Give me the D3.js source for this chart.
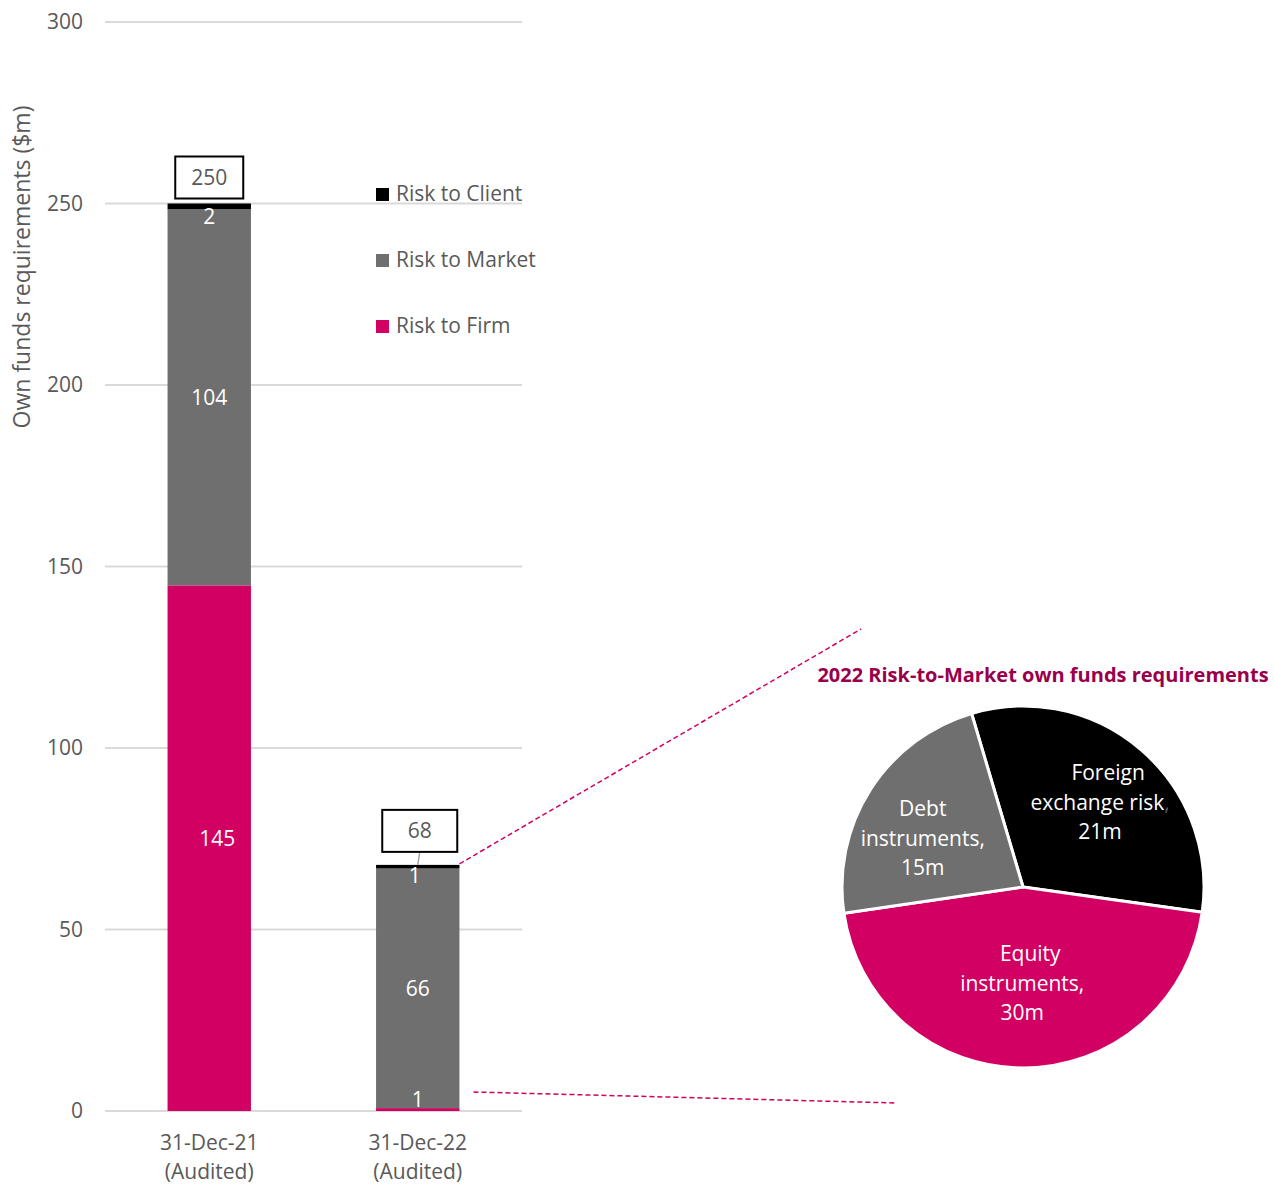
<!DOCTYPE html>
<html>
<head>
<meta charset="utf-8">
<script src="https://cdn.jsdelivr.net/npm/d3@7"></script>
<style>
  body { margin: 0; background: #fff; }
  svg text { font-family: "Open Sans", "Noto Sans", sans-serif; }
</style>
</head>
<body>
<div class="chart"></div>
<script>
// DATA ------------------------------------
const periods = ['31-Dec-21', '31-Dec-22'];
const periodNotes = ['(Audited)', '(Audited)'];
const riskToFirm = [144.8, 0.8];
const riskToMarket = [103.6, 66.0];
const riskToClient = [1.6, 1.0];
const yTicks = [0, 50, 100, 150, 200, 250, 300];

const pieLabels = [['Foreign', 'exchange risk', '21m'], ['Equity', 'instruments,', '30m'], ['Debt', 'instruments,', '15m']];
const pieValues = [21, 30, 15];

const colors = { firm: '#d20062', market: '#6f6f6f', client: '#000000' };
const pieColors = ['#000000', '#d20062', '#6f6f6f'];
const textGrey = '#595959';

// CHART INIT ------------------------------
const W = 1274, H = 1184;
const margin = { top: 22, left: 105 },
    plotW = 417,
    plotH = 1089;

const svg = d3.select('.chart')
    .append('svg')
    .attr('width', W)
    .attr('height', H);

const group = svg.append('g')
    .attr('transform', `translate(${margin.left},${margin.top})`);

const xScale = d3.scaleBand()
    .domain(periods)
    .range([0, plotW])
    .paddingInner(0.6)
    .paddingOuter(0.3);

const yScale = d3.scaleLinear()
    .domain([0, 300])
    .range([plotH, 0]);

// gridlines
group.selectAll('.grid')
    .data(yTicks)
    .enter()
    .append('line')
    .attr('x1', 0)
    .attr('x2', plotW)
    .attr('y1', d => yScale(d))
    .attr('y2', d => yScale(d))
    .attr('stroke', '#d9d9d9')
    .attr('stroke-width', 2);

// y axis labels
const yAxis = d3.axisLeft(yScale).tickValues(yTicks).tickSize(0).tickPadding(22);
const yDisplay = group.append('g').call(yAxis);
yDisplay.select('.domain').remove();
yDisplay.selectAll('text')
    .attr('font-size', 21)
    .attr('fill', textGrey)
    .style('font-family', '"Open Sans", sans-serif');

svg.append('text')
    .attr('transform', 'translate(30,267) rotate(-90)')
    .attr('text-anchor', 'middle')
    .attr('font-size', 23)
    .attr('fill', textGrey)
    .text('Own funds requirements ($m)');

// x axis labels
const xAxis = group.append('g').attr('transform', `translate(0,${plotH})`);
periods.forEach((p, i) => {
    const cx = xScale(p) + xScale.bandwidth() / 2;
    const t = xAxis.append('text')
        .attr('text-anchor', 'middle')
        .attr('font-size', 21)
        .attr('fill', textGrey);
    t.append('tspan').attr('x', cx).attr('y', 39).text(p);
    t.append('tspan').attr('x', cx).attr('y', 68).text(periodNotes[i]);
});

// stacked bars
const rows = periods.map((p, i) => ({
    period: p,
    firm: riskToFirm[i],
    market: riskToMarket[i],
    client: riskToClient[i]
}));
const keys = ['firm', 'market', 'client'];
const stacked = d3.stack().keys(keys)(rows);

group.selectAll('.layer')
    .data(stacked)
    .enter()
    .append('g')
    .attr('fill', d => colors[d.key])
    .selectAll('rect')
    .data(d => d)
    .enter()
    .append('rect')
    .attr('x', d => xScale(d.data.period))
    .attr('y', d => yScale(d[1]))
    .attr('width', xScale.bandwidth())
    .attr('height', d => yScale(d[0]) - yScale(d[1]));

// segment labels
const fmt = d3.format('.0f');
stacked.forEach(layer => {
    layer.forEach((d, i) => {
        const cx = xScale(d.data.period) + xScale.bandwidth() / 2;
        let cy, dx = 0;
        if (layer.key === 'market') {
            cy = (yScale(d[0]) + yScale(d[1])) / 2;
        } else if (layer.key === 'firm') {
            if (i === 0) { cy = (yScale(d[0]) + yScale(d[1])) / 2 - 10; dx = 8; }
            else { cy = yScale(d[1]) - 8; }
        } else {
            cy = yScale(d[0]) + 7;
            if (i === 1) dx = -3;
        }
        group.append('text')
            .attr('x', cx + dx)
            .attr('y', cy)
            .attr('dy', '0.35em')
            .attr('text-anchor', 'middle')
            .attr('font-size', 21)
            .attr('fill', '#fff')
            .text(fmt(d.data[layer.key]));
    });
});

// total boxes
rows.forEach((r, i) => {
    const total = r.firm + r.market + r.client;
    const cx = xScale(r.period) + xScale.bandwidth() / 2;
    const top = yScale(total);
    const boxW = i === 0 ? 68 : 75, boxH = 42;
    const boxCx = i === 0 ? cx : cx + 2;
    const boxBottom = i === 0 ? top - 5 : top - 13;
    if (i === 1) {
        group.append('line')
            .attr('x1', boxCx).attr('y1', boxBottom)
            .attr('x2', cx).attr('y2', top)
            .attr('stroke', '#a6a6a6').attr('stroke-width', 1.5);
    }
    group.append('rect')
        .attr('x', boxCx - boxW / 2)
        .attr('y', boxBottom - boxH)
        .attr('width', boxW)
        .attr('height', boxH)
        .attr('fill', '#fff')
        .attr('stroke', '#000')
        .attr('stroke-width', 2);
    group.append('text')
        .attr('x', boxCx)
        .attr('y', boxBottom - boxH / 2)
        .attr('dy', '0.35em')
        .attr('text-anchor', 'middle')
        .attr('font-size', 21)
        .attr('fill', textGrey)
        .text(fmt(total));
});

// legend
const legendNames = { client: 'Risk to Client', market: 'Risk to Market', firm: 'Risk to Firm' };
['client', 'market', 'firm'].forEach((k, i) => {
    const ly = 194 + i * 66;
    svg.append('rect')
        .attr('x', 376).attr('y', ly - 6)
        .attr('width', 13).attr('height', 13)
        .attr('fill', colors[k]);
    svg.append('text')
        .attr('x', 396).attr('y', ly)
        .attr('dy', '0.35em')
        .attr('font-size', 21)
        .attr('fill', textGrey)
        .text(legendNames[k]);
});

// zoom connector lines
const total22 = rows[1].firm + rows[1].market + rows[1].client;
const bar2Right = margin.left + xScale(periods[1]) + xScale.bandwidth();
svg.append('line')
    .attr('x1', bar2Right).attr('y1', margin.top + yScale(total22) - 1)
    .attr('x2', 861).attr('y2', 629)
    .attr('stroke', colors.firm).attr('stroke-width', 1.5)
    .attr('stroke-dasharray', '5,3');
svg.append('line')
    .attr('x1', bar2Right + 14).attr('y1', 1092)
    .attr('x2', 897).attr('y2', 1103)
    .attr('stroke', colors.firm).attr('stroke-width', 1.5)
    .attr('stroke-dasharray', '5,3');

// PIE -------------------------------------
const pieCx = 1023, pieCy = 887, radius = 181;
svg.append('text')
    .attr('x', 1043).attr('y', 675)
    .attr('dy', '0.35em')
    .attr('text-anchor', 'middle')
    .attr('font-size', 20)
    .attr('font-weight', 'bold')
    .attr('fill', '#99004c')
    .text('2022 Risk-to-Market own funds requirements');

const pie = d3.pie()
    .sort(null)
    .startAngle(-16.5 * Math.PI / 180)
    .endAngle((360 - 16.5) * Math.PI / 180);
const arc = d3.arc().innerRadius(0).outerRadius(radius);
const pieG = svg.append('g').attr('transform', `translate(${pieCx},${pieCy})`);
const arcs = pie(pieValues);

pieG.selectAll('path')
    .data(arcs)
    .enter()
    .append('path')
    .attr('d', arc)
    .attr('fill', (d, i) => pieColors[i])
    .attr('stroke', '#fff')
    .attr('stroke-width', 3)
    .attr('stroke-linejoin', 'round');

// label centres (offset from centroid as in original)
const labelArc = d3.arc().innerRadius(radius * 0.5).outerRadius(radius * 0.5);
const labelShift = [[18, -16], [-1, 6], [-24, 0]];
arcs.forEach((d, i) => {
    const c = labelArc.centroid(d);
    const t = pieG.append('text')
        .attr('text-anchor', 'middle')
        .attr('font-size', 21)
        .attr('fill', '#fff');
    pieLabels[i].forEach((line, j) => {
        let lx = c[0] + labelShift[i][0];
        if (i === 0 && j === 0) lx += 8;
        if (i === 1 && j === 0) lx += 8;
        const ts = t.append('tspan')
            .attr('x', lx)
            .attr('y', c[1] + labelShift[i][1] + (j - 1) * 29.5)
            .attr('dy', '0.35em');
        if (i === 0 && j === 1) {
            ts.text(line);
            ts.append('tspan').attr('fill', textGrey).text(',');
        } else {
            ts.text(line);
        }
    });
});
</script>
</body>
</html>
